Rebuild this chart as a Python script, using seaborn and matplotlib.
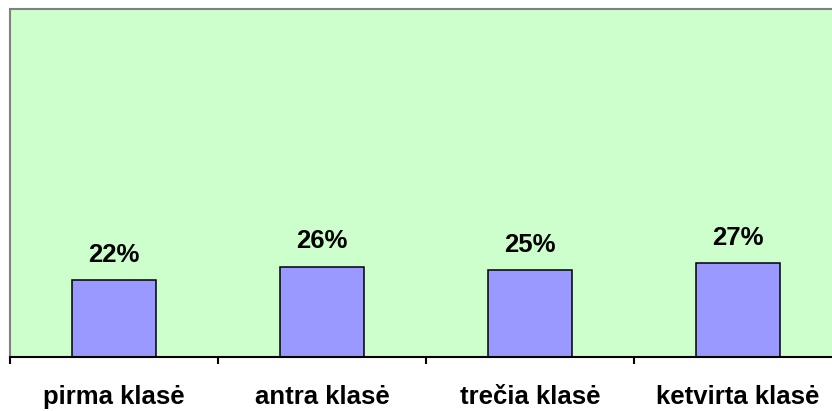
import matplotlib.pyplot as plt
import pandas as pd
import seaborn as sns

# Data
categories = ['pirma klasė', 'antra klasė', 'trečia klasė', 'ketvirta klasė']
values = [22, 26, 25, 27]
value_labels = ['22%', '26%', '25%', '27%']

df = pd.DataFrame({'klase': categories, 'proc': values})

sns.set_style('white')
plt.rcParams['font.family'] = ['Liberation Sans', 'DejaVu Sans']
plt.rcParams['text.color'] = 'black'
plt.rcParams['xtick.color'] = 'black'

fig = plt.figure(figsize=(8.32, 4.11), dpi=100)
# plot area runs past the right edge of the picture, like the original
ax = fig.add_axes([10 / 832, 54 / 411, 832 / 832, 348 / 411])
ax.set_facecolor('#CCFFCC')

sns.barplot(data=df, x='klase', y='proc', ax=ax, color='#9999FF',
            saturation=1, width=0.4, edgecolor='black', linewidth=1.1)

for i, (v, lab) in enumerate(zip(values, value_labels)):
    ax.annotate(lab, (i, v), xytext=(0, 13), textcoords='offset points',
                ha='center', va='baseline', fontsize=18.5, fontweight='bold',
                color='black')

ax.set_ylim(0, 100)
ax.set_xlim(-0.5, len(categories) - 0.5)
ax.set_yticks([])
ax.set_xlabel('')
ax.set_ylabel('')

ax.set_xticks(range(len(categories)))
ax.set_xticklabels(categories, fontsize=18.5, fontweight='bold', color='black')
ax.tick_params(axis='x', which='major', length=0, pad=20)
ax.set_xticks([i - 0.5 for i in range(len(categories) + 1)], minor=True)
ax.tick_params(axis='x', which='minor', length=5, width=1.5,
               direction='out', color='black', bottom=True)

for side in ['left', 'top', 'right']:
    ax.spines[side].set_color('#808080')
    ax.spines[side].set_linewidth(1.5)
ax.spines['bottom'].set_color('black')
ax.spines['bottom'].set_linewidth(1.5)

fig.savefig('out.png', dpi=100)
